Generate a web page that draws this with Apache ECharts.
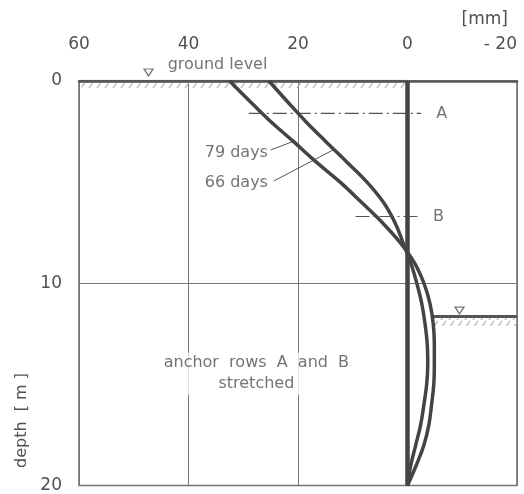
<!DOCTYPE html>
<html><head><meta charset="utf-8">
<script src="https://cdn.jsdelivr.net/npm/echarts@6/dist/echarts.min.js"></script>
<style>html,body{margin:0;padding:0;background:#fff}#c{width:524px;height:494px}</style>
</head><body><div id="c"></div>
<script>
// ---- data ----
const depths   = [0,1,2,3,4,5,6,7,8,9,10,11,12,13,14,15,16,17,18,19,20];
const days79   = [32.5,28.8,25.0,20.8,16.7,12.3,8.4,4.6,1.3,-1.3,-3.0,-4.1,-4.7,-4.9,-4.9,-4.8,-4.4,-3.9,-3.0,-1.6,0];
const days66   = [25.3,22.0,18.6,14.9,11.1,7.4,4.4,2.3,0.8,-0.6,-1.7,-2.6,-3.2,-3.6,-3.7,-3.5,-3.0,-2.4,-1.5,-0.6,0];
const xTicks   = [60,40,20,0,-20];
const yTicks   = [0,10,20];
const wallX    = [0,0];
const wallD    = [0,20];
const anchorA  = {x:[29,-2.5], d:[1.6,1.6], label:'A'};
const anchorB  = {x:[9.5,-2.5], d:[6.7,6.7], label:'B'};
const gwLevel  = {x:[-4.3,-20], d:[11.65,11.65]};
const groundLevelD = 0;
const leader79 = {x:[25.0,20.6], d:[3.41,2.96]};
const leader66 = {x:[24.4,13.6], d:[4.94,3.41]};
const annotations = [
  {x:34.7, d:-0.78, text:'ground level', align:'center'},
  {x:37.4, d:3.56, text:'79 days', align:'left'},
  {x:37.4, d:5.04, text:'66 days', align:'left'},
  {x:27.6, d:14.47, text:'anchor  rows  A  and  B\nstretched', align:'center'},
  {x:-4.9, d:1.6, text:'A', align:'left'},
  {x:-4.3, d:6.7, text:'B', align:'left'}
];
const triangles = [{x:47.3, d:-0.42},{x:-9.5, d:11.35}];

// ---- styling ----
const INK = '#444';
const TXT = '#505050';
const FONT = 'DejaVu Sans';
function hatch(){
  const c = document.createElement('canvas'); c.width = 8; c.height = 8;
  const g = c.getContext('2d');
  g.strokeStyle = '#aaaaaa'; g.lineWidth = 1.2;
  g.beginPath(); g.moveTo(1,8); g.lineTo(6,1); g.stroke();
  return {image:c, repeat:'repeat'};
}
const pair = (xs, ds) => xs.map((v,i)=>[v, ds[i]]);

const chart = echarts.init(document.getElementById('c'), null, {renderer:'canvas'});
chart.setOption({
  animation:false,
  backgroundColor:'#fff',
  grid:{left:79, top:81, width:438, height:405, show:true, borderColor:'#6a6a6a', borderWidth:1.5, backgroundColor:'transparent'},
  xAxis:{type:'value', position:'top', inverse:true, min:-20, max:60, interval:20,
    axisLine:{show:true, lineStyle:{color:'#555', width:2.5}},
    axisTick:{show:false},
    splitLine:{show:true, lineStyle:{color:'#777', width:1}},
    axisLabel:{margin:28, color:TXT, fontFamily:FONT, fontSize:17,
      alignMinLabel:'right',
      formatter:v=> v<0 ? '- ' + Math.abs(v) : String(v)}
  },
  yAxis:{type:'value', inverse:true, min:0, max:20, interval:10,
    axisLine:{show:true, lineStyle:{color:'#6a6a6a', width:1.5}},
    axisTick:{show:false},
    splitLine:{show:true, lineStyle:{color:'#777', width:1}},
    axisLabel:{margin:17, color:TXT, fontFamily:FONT, fontSize:17}
  },
  graphic:[
    {type:'text', right:16, top:11, style:{text:'[mm]', font:'17px '+FONT, fill:TXT}},
    {type:'text', left:14, top:373, rotation:Math.PI/2, originX:0, originY:0,
     style:{text:'depth  [ m ]', font:'16px '+FONT, fill:TXT, textAlign:'right', textVerticalAlign:'bottom'}}
  ],
  series:[
    {type:'line', name:'79 days', data:pair(days79, depths), smooth:0.4, showSymbol:false, z:5,
     lineStyle:{color:INK, width:3.5}},
    {type:'line', name:'66 days', data:pair(days66, depths), smooth:0.4, showSymbol:false, z:5,
     lineStyle:{color:INK, width:3.5}},
    {type:'line', name:'wall', data:pair(wallX, wallD), showSymbol:false, z:6,
     lineStyle:{color:'#444', width:4.5}},
    {type:'line', name:'anchor A', data:pair(anchorA.x, anchorA.d), showSymbol:false, z:4,
     lineStyle:{color:'#555', width:1.2, type:[14,4,2,4]}},
    {type:'line', name:'anchor B', data:pair(anchorB.x, anchorB.d), showSymbol:false, z:4,
     lineStyle:{color:'#555', width:1.2, type:[14,4,2,4]}},
    {type:'line', name:'groundwater', data:pair(gwLevel.x, gwLevel.d), showSymbol:false, z:4,
     lineStyle:{color:'#555', width:3},
     markArea:{silent:true, itemStyle:{color:hatch()},
       data:[[{coord:[gwLevel.x[0]-0.5, gwLevel.d[0]+0.08]},{coord:[gwLevel.x[1], gwLevel.d[0]+0.45]}]]}},
    {type:'line', name:'ground', data:[[60,groundLevelD],[0,groundLevelD]], showSymbol:false, z:4,
     lineStyle:{color:'#555', width:2.5},
     markArea:{silent:true, itemStyle:{color:hatch()},
       data:[[{coord:[59.5, groundLevelD+0.06]},{coord:[0.5, groundLevelD+0.38]}]]}},
    {type:'line', name:'leader79', data:pair(leader79.x, leader79.d), showSymbol:false, z:4,
     lineStyle:{color:'#555', width:1}},
    {type:'line', name:'leader66', data:pair(leader66.x, leader66.d), showSymbol:false, z:4,
     lineStyle:{color:'#555', width:1}},
    {type:'scatter', name:'triangles', clip:false, data:triangles.map(t=>[t.x,t.d]),
     symbol:'triangle', symbolRotate:180, symbolSize:[9,7], z:7,
     itemStyle:{color:'#fff', borderColor:'#555', borderWidth:1.3}},
    {type:'scatter', name:'text', clip:false, symbolSize:0, z:8,
     data:annotations.map(a=>({value:[a.x,a.d],
       label:{show:true, position:'inside', formatter:a.text, align:a.align,
         color:TXT, fontFamily:FONT, fontSize:16, lineHeight:21,
         backgroundColor:'#fff', padding:[0,2]}}))}
  ]
});
</script></body></html>
